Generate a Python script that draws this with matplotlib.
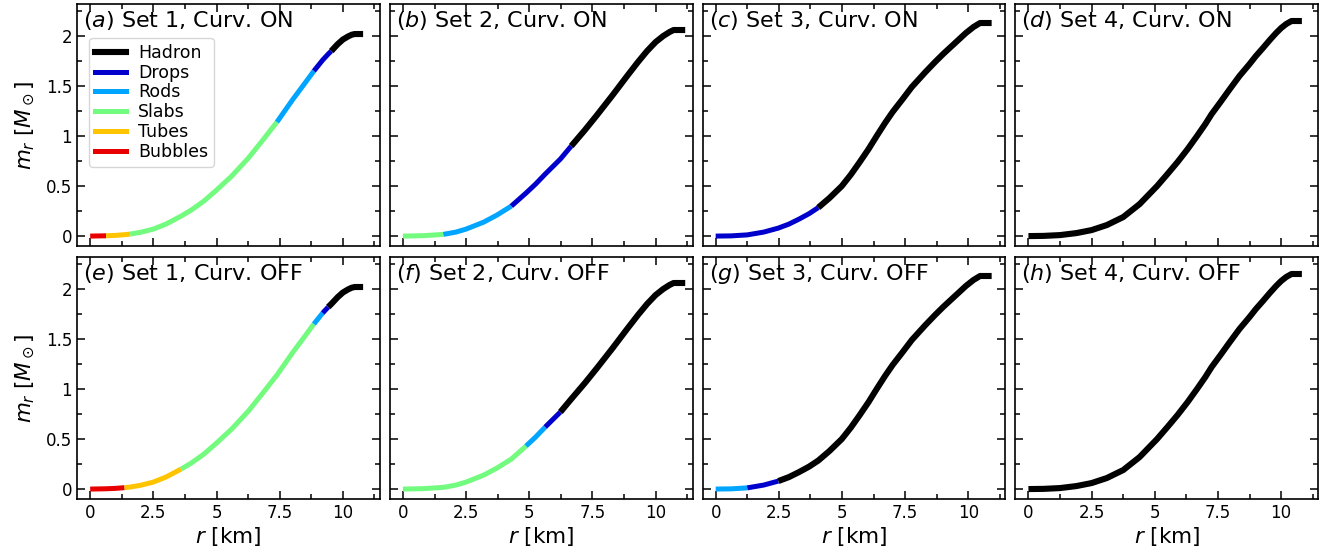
import matplotlib
matplotlib.use("Agg")
import numpy as np
import matplotlib.pyplot as plt
from matplotlib.ticker import MultipleLocator, FormatStrFormatter

# m_r(r) profiles, one per parameter set
r_set1 = [0, 0.63, 1.0, 1.36, 1.58, 2.0, 2.5, 3.0, 3.6, 4.0, 4.5, 5.0, 5.6, 6.26, 6.8, 7.39,
          8.0, 8.5, 8.85, 9.2, 9.42, 9.54, 9.8, 10.0, 10.2, 10.35, 10.47, 10.8]
m_set1 = [0, 0.003, 0.007, 0.014, 0.02, 0.038, 0.07, 0.12, 0.2, 0.26, 0.35, 0.46, 0.6, 0.78, 0.95, 1.14,
          1.36, 1.53, 1.65, 1.76, 1.82, 1.85, 1.92, 1.965, 1.995, 2.013, 2.02, 2.02]

r_set2 = [0, 0.8, 1.6, 2.1, 2.5, 3.2, 3.72, 4.29, 4.87, 5.25, 5.63, 6.23, 6.66, 7.2, 7.68, 8.3, 8.87,
          9.3, 9.66, 10.0, 10.3, 10.55, 10.71, 11.17]
m_set2 = [0, 0.004, 0.017, 0.04, 0.07, 0.14, 0.21, 0.3, 0.43, 0.52, 0.62, 0.77, 0.9, 1.06, 1.21, 1.41, 1.6,
          1.74, 1.85, 1.94, 2.0, 2.04, 2.06, 2.06]

r_set3 = [0, 0.6, 1.25, 1.9, 2.48, 2.9, 3.3, 3.7, 4.06, 4.5, 4.99, 5.35, 5.7, 6.05, 6.37, 6.7, 7.0,
          7.4, 7.76, 8.3, 8.68, 9.0, 9.3, 9.6, 9.9, 10.2, 10.46, 10.92]
m_set3 = [0, 0.002, 0.012, 0.04, 0.08, 0.12, 0.17, 0.225, 0.285, 0.38, 0.5, 0.615, 0.74, 0.87, 1.0, 1.13, 1.24,
          1.37, 1.49, 1.64, 1.74, 1.82, 1.89, 1.96, 2.03, 2.09, 2.13, 2.13]

r_set4 = [0, 0.6, 1.25, 1.9, 2.5, 3.1, 3.75, 4.4, 5.09, 5.5, 5.9, 6.3, 6.67, 7.0, 7.25, 7.6, 7.97,
          8.35, 8.75, 9.0, 9.28, 9.55, 9.8, 10.0, 10.2, 10.41, 10.82]
m_set4 = [0, 0.002, 0.01, 0.03, 0.06, 0.11, 0.19, 0.32, 0.5, 0.62, 0.74, 0.87, 1.0, 1.12, 1.22, 1.34, 1.47,
          1.6, 1.72, 1.8, 1.88, 1.96, 2.03, 2.08, 2.12, 2.15, 2.15]

phases = ["Hadron", "Drops", "Rods", "Slabs", "Tubes", "Bubbles"]
phase_colors = ["black", "#0000cd", "#00a5ff", "#73fb7f", "#ffc400", "#e80000"]

# phase sequence along r for each panel: (phase, r_start, r_end)
seg_a = [("Bubbles", 0, 0.63), ("Tubes", 0.63, 1.58), ("Slabs", 1.58, 7.39),
         ("Rods", 7.39, 8.85), ("Drops", 8.85, 9.54), ("Hadron", 9.54, 10.8)]
seg_b = [("Slabs", 0, 1.6), ("Rods", 1.6, 4.29), ("Drops", 4.29, 6.66), ("Hadron", 6.66, 11.17)]
seg_c = [("Drops", 0, 4.06), ("Hadron", 4.06, 10.92)]
seg_d = [("Hadron", 0, 10.82)]
seg_e = [("Bubbles", 0, 1.36), ("Tubes", 1.36, 3.6), ("Slabs", 3.6, 8.85),
         ("Rods", 8.85, 9.2), ("Drops", 9.2, 9.42), ("Hadron", 9.42, 10.8)]
seg_f = [("Slabs", 0, 4.87), ("Rods", 4.87, 5.63), ("Drops", 5.63, 6.23), ("Hadron", 6.23, 11.17)]
seg_g = [("Rods", 0, 1.25), ("Drops", 1.25, 2.48), ("Hadron", 2.48, 10.92)]
seg_h = [("Hadron", 0, 10.82)]

titles = ["a", "b", "c", "d", "e", "f", "g", "h"]
curves = [(r_set1, m_set1), (r_set2, m_set2), (r_set3, m_set3), (r_set4, m_set4)] * 2
segments = [seg_a, seg_b, seg_c, seg_d, seg_e, seg_f, seg_g, seg_h]

plt.rcParams["xtick.direction"] = "in"
plt.rcParams["ytick.direction"] = "in"
plt.rcParams["axes.linewidth"] = 1.2

fig, axes = plt.subplots(2, 4, figsize=(13.35, 5.57), dpi=100, sharex=True, sharey=True)
fig.subplots_adjust(left=0.0577, right=0.9873, top=0.9928, bottom=0.104, wspace=0.033, hspace=0.045)

color_of = dict(zip(phases, phase_colors))
width_of = {p: (4.4 if p == "Hadron" else 3.6) for p in phases}

for i, ax in enumerate(axes.flat):
    r = np.array(curves[i][0])
    m = np.array(curves[i][1])
    for phase, r0, r1 in segments[i]:
        sel = (r >= r0 - 1e-9) & (r <= r1 + 1e-9)
        ax.plot(r[sel], m[sel], color=color_of[phase], lw=width_of[phase], solid_capstyle="butt")
    row, col = divmod(i, 4)
    curv = "ON" if row == 0 else "OFF"
    ax.text(0.02, 0.98, f"(${titles[i]}$) Set {col + 1}, Curv. {curv}", transform=ax.transAxes,
            fontsize=16, va="top", ha="left")
    ax.tick_params(which="both", top=True, right=True, labelsize=12, width=1.1)
    ax.tick_params(which="major", length=6)
    ax.tick_params(which="minor", length=3.5)
    ax.xaxis.set_major_locator(MultipleLocator(2.5))
    ax.xaxis.set_minor_locator(MultipleLocator(1.25))
    ax.yaxis.set_major_locator(MultipleLocator(0.5))
    ax.yaxis.set_minor_locator(MultipleLocator(0.25))
    ax.xaxis.set_major_formatter(FormatStrFormatter("%g"))
    ax.yaxis.set_major_formatter(FormatStrFormatter("%g"))
    if row == 1:
        ax.set_xlabel("$r$ [km]", fontsize=15.5, labelpad=2)
    if col == 0:
        ax.set_ylabel(r"$m_r$ [$M_\odot$]", fontsize=15.5, labelpad=6)

axes[0, 0].set_xlim(-0.52, 11.46)
axes[0, 0].set_ylim(-0.1, 2.32)

handles = [plt.Line2D([], [], color=c, lw=width_of[p]) for p, c in zip(phases, phase_colors)]
axes[0, 0].legend(handles, phases, loc="upper left", bbox_to_anchor=(0.04, 0.86), fontsize=12.5,
                  handlelength=1.75, labelspacing=0.1, borderpad=0.35, handletextpad=0.7,
                  borderaxespad=0.0)

fig.savefig("out.png", dpi=100)
